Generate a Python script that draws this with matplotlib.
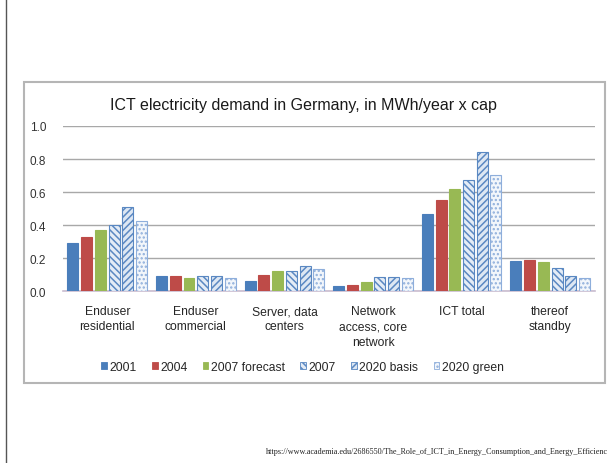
import numpy as np
import matplotlib
matplotlib.use('Agg')
import matplotlib.pyplot as plt
from matplotlib.patches import Patch, Rectangle
from matplotlib.lines import Line2D

plt.rcParams['font.family'] = ['Liberation Sans', 'DejaVu Sans']
plt.rcParams['hatch.linewidth'] = 1.1

# data (MWh/year x cap)
categories = ['Enduser\nresidential', 'Enduser\ncommercial', 'Server, data\ncenters',
              'Network\naccess, core\nnetwork', 'ICT total', 'thereof\nstandby']
series_names = ['2001', '2004', '2007 forecast', '2007', '2020 basis', '2020 green']
v2001 = [0.29, 0.09, 0.065, 0.03, 0.47, 0.185]
v2004 = [0.33, 0.09, 0.10, 0.04, 0.55, 0.19]
v2007f = [0.37, 0.08, 0.12, 0.055, 0.62, 0.18]
v2007 = [0.40, 0.09, 0.12, 0.085, 0.675, 0.14]
v2020b = [0.51, 0.09, 0.155, 0.085, 0.84, 0.095]
v2020g = [0.425, 0.08, 0.135, 0.08, 0.705, 0.08]
yticks = [0.0, 0.2, 0.4, 0.6, 0.8, 1.0]

all_vals = [v2001, v2004, v2007f, v2007, v2020b, v2020g]
faces = ['#4a7ebb', '#be4b48', '#98b954', '#e4ecf6', '#dde7f3', '#f2f6fb']
edges = ['#4a7ebb', '#be4b48', '#98b954', '#5a88c2', '#5a88c2', '#8eaedb']
hatches = [None, None, None, '\\\\\\\\\\', '/////', '....']

fig = plt.figure(figsize=(6.11, 4.64), dpi=100)
ax = fig.add_axes([0.1031, 0.370, 0.8699, 0.3563])

x = np.arange(len(categories))
step = 0.155
width = 0.124
for i, vals in enumerate(all_vals):
    offs = (i - 2.5) * step
    ax.bar(x + offs, vals, width, color=faces[i], edgecolor=edges[i],
           hatch=hatches[i], linewidth=0.8, zorder=3)

ax.set_xlim(-0.5, len(categories) - 0.5)
ax.set_ylim(0, 1.0)
ax.set_yticks(yticks)
ax.set_yticklabels(['%.1f' % t for t in yticks], fontsize=8.5, color='#333333')
ax.tick_params(axis='y', length=0, pad=12)
ax.set_xticks(x)
ax.set_xticklabels(categories, fontsize=8.7, color='#262626', linespacing=1.35)
ax.tick_params(axis='x', length=0, pad=10)
ax.yaxis.grid(True, color='#a8a8a8', linewidth=1.0, zorder=0)
for s in ['top', 'right', 'left']:
    ax.spines[s].set_visible(False)
ax.spines['bottom'].set_color('#c9bcd0')
ax.spines['bottom'].set_linewidth(1.2)

fig.text(0.497, 0.772, 'ICT electricity demand in Germany, in MWh/year x cap',
         ha='center', va='center', fontsize=11.5, color='#1a1a1a')

handles = [Patch(facecolor=faces[i], edgecolor=edges[i], hatch=hatches[i], linewidth=0.6)
           for i in range(len(series_names))]
leg = fig.legend(handles, series_names, loc='center', bbox_to_anchor=(0.495, 0.207),
                 ncol=6, frameon=False, fontsize=8.7, handlelength=0.45, handleheight=0.45,
                 handletextpad=0.2, columnspacing=1.3)
for t in leg.get_texts():
    t.set_color('#262626')

# screenshot frame
fig.patches.append(Rectangle((24 / 611, 1 - 384 / 464), (605 - 24) / 611, (384 - 83) / 464,
                             transform=fig.transFigure, fill=False, edgecolor='#b5b5b5',
                             linewidth=1.5))
fig.lines.append(Line2D([6 / 611, 6 / 611], [0, 1], transform=fig.transFigure,
                        color='#555555', linewidth=1.0))

fig.text(608 / 611, 1 - 452 / 464,
         'https://www.academia.edu/2686550/The_Role_of_ICT_in_Energy_Consumption_and_Energy_Efficienc',
         ha='right', va='center', fontsize=5.85, family=['Liberation Serif', 'DejaVu Serif'],
         color='#222222')

fig.savefig('out.png', dpi=100)
